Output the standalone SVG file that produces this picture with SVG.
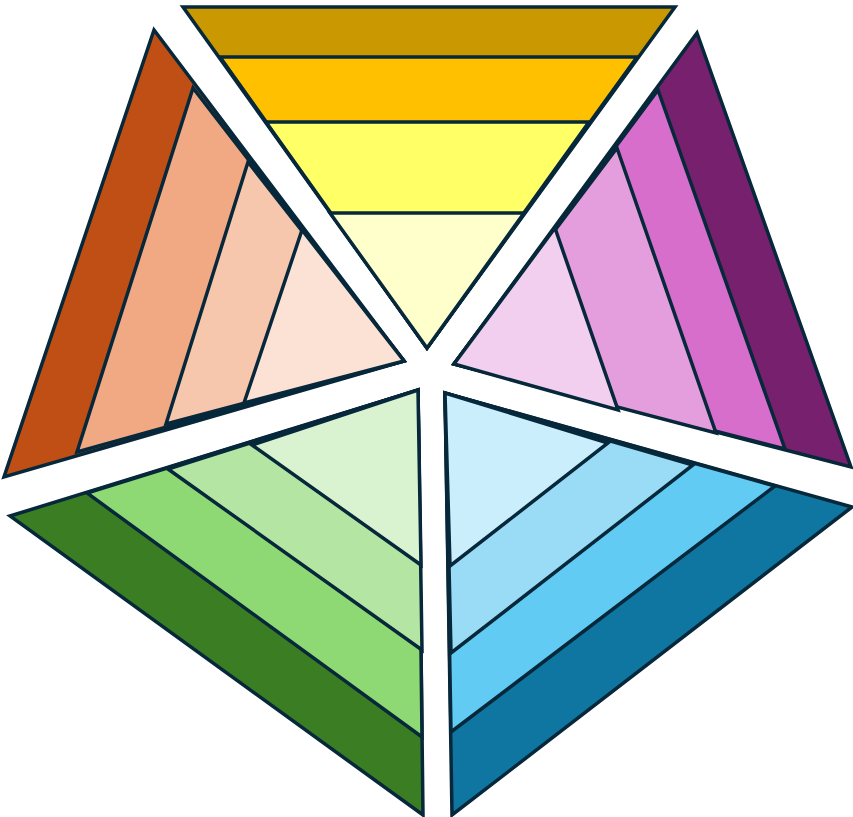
<svg xmlns="http://www.w3.org/2000/svg" width="853" height="817" viewBox="0 0 853 817">
<style>
polygon{stroke:#06283a;stroke-width:3.5;stroke-linejoin:miter;stroke-miterlimit:10}
</style>
<rect width="853" height="817" fill="#ffffff"/>
<g id="top">
<polygon points="183,7 675,7 427,348" fill="#CA9800"/>
<polygon points="220,57 637,57 427,348" fill="#FFC000"/>
<polygon points="266,122 589,122 427,348" fill="#FFFF66"/>
<polygon points="330,213 524,213 427,348" fill="#FFFFCC"/>
</g>
<g id="left">
<polygon points="154,30 4,477 404,361" fill="#C04F15"/>
<polygon points="193,88 77,452 404,361" fill="#F1A983"/>
<polygon points="248,162 166,424 404,361" fill="#F6C6AD"/>
<polygon points="302,230 244,403 404,361" fill="#FBE2D5"/>
</g>
<g id="right">
<polygon points="697,33 851,467 454,364" fill="#77206D"/>
<polygon points="658,90 785,449 454,364" fill="#D86ECC"/>
<polygon points="617,148 716,433 454,364" fill="#E49EDD"/>
<polygon points="555,228 618,410 454,364" fill="#F2CEEF"/>
</g>
<g id="bottom-left">
<polygon points="10,516 418,390 423,815" fill="#3B7D23"/>
<polygon points="87,493 418,390 422,737" fill="#8ED973"/>
<polygon points="168,469 418,390 422,650" fill="#B4E5A2"/>
<polygon points="252,445 418,390 421,565" fill="#D9F2D0"/>
</g>
<g id="bottom-right">
<polygon points="852,507 445,393 452,815" fill="#0E76A0"/>
<polygon points="775,486 445,393 451,732" fill="#61CBF3"/>
<polygon points="693,465 445,393 451,653" fill="#9ADBF6"/>
<polygon points="608,443 445,393 450,566" fill="#CAEEFB"/>
</g>
<g id="connectors"/>
</svg>
